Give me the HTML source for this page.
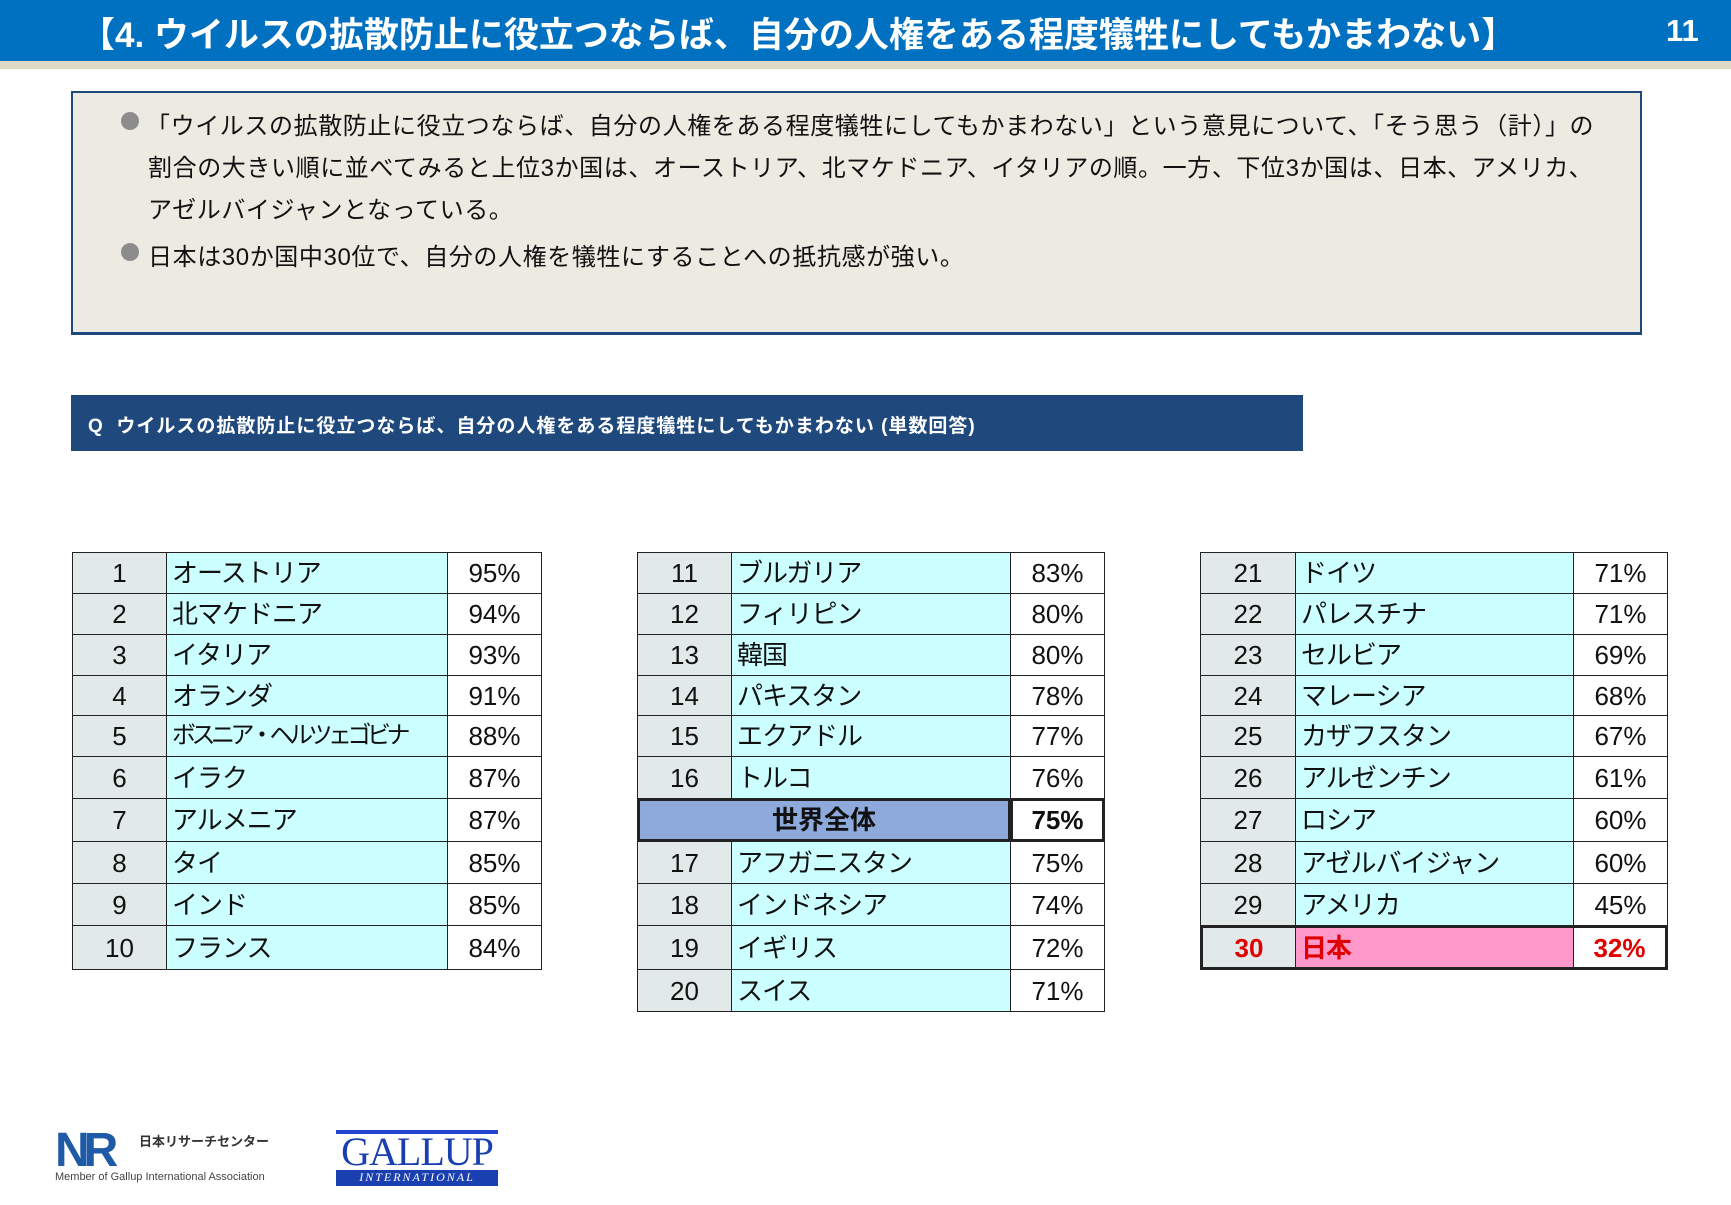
<!DOCTYPE html>
<html><head><meta charset="utf-8"><style>
*{margin:0;padding:0;box-sizing:border-box}
body{width:1731px;height:1205px;background:#fff;position:relative;overflow:hidden;font-family:"Liberation Sans","Noto Sans CJK JP",sans-serif}
.hdr{position:absolute;left:0;top:0;width:1731px;height:61px;background:#0070C0}
.stripe{position:absolute;left:0;top:61px;width:1731px;height:8px;background:#DDD9C4}
.title{position:absolute;left:80px;top:7px;color:#fff;font-size:35px;font-weight:bold;white-space:nowrap;letter-spacing:0px}
.pg{position:absolute;left:1666px;top:13px;color:#fff;font-size:31px;font-weight:bold}
.box{position:absolute;left:71px;top:91px;width:1571px;height:244px;background:#EDEAE1;border:2px solid #1F497D;border-bottom-width:3px}
.ln{position:absolute;font-size:24px;color:#111;white-space:nowrap;letter-spacing:0.6px}
.dot{position:absolute;width:18px;height:18px;border-radius:50%;background:#8c8c8c}
.q{position:absolute;left:71px;top:395px;width:1232px;height:56px;background:#1F497D;color:#fff;font-size:19px;font-weight:bold;padding:16px 0 0 17px;white-space:nowrap;letter-spacing:1px}
.c{position:absolute;border:1.5px solid #222;font-size:26px;color:#111;line-height:1;display:flex;align-items:center;white-space:nowrap;overflow:hidden}
.r{background:#E2E9E9;justify-content:center}
.n{background:#CCFFFF;padding-left:5px;letter-spacing:-1px}
.p{background:#fff;justify-content:center}
</style></head><body>
<div class="hdr"></div><div class="stripe"></div>
<div class="title">【4. ウイルスの拡散防止に役立つならば、自分の人権をある程度犠牲にしてもかまわない】</div>
<div class="pg">11</div>
<div class="box"></div>
<div class="dot" style="left:121px;top:112px"></div>
<div class="ln" style="left:146px;top:106px">「ウイルスの拡散防止に役立つならば、自分の人権をある程度犠牲にしてもかまわない」という意見について、「そう思う（計）」の</div>
<div class="ln" style="left:148px;top:148px">割合の大きい順に並べてみると上位3か国は、オーストリア、北マケドニア、イタリアの順。一方、下位3か国は、日本、アメリカ、</div>
<div class="ln" style="left:148px;top:190px">アゼルバイジャンとなっている。</div>
<div class="dot" style="left:121px;top:243px"></div>
<div class="ln" style="left:148px;top:237px">日本は30か国中30位で、自分の人権を犠牲にすることへの抵抗感が強い。</div>
<div class="q">Q&nbsp; ウイルスの拡散防止に役立つならば、自分の人権をある程度犠牲にしてもかまわない (単数回答)</div>
<div id="t"></div>
<svg style="position:absolute;left:55px;top:1122px" width="240" height="65">
<text x="0" y="44" font-family="Liberation Sans" font-weight="bold" font-size="48" fill="#1F5AA6" letter-spacing="-6">NR</text>
<text x="84" y="24" font-family="Liberation Sans,Noto Sans CJK JP,sans-serif" font-weight="bold" font-size="13" fill="#333">日本リサーチセンター</text>
<text x="0" y="58" font-family="Liberation Sans" font-size="11" fill="#444">Member of Gallup International Association</text>
</svg>
<div style="position:absolute;left:336px;top:1128px;width:162px;height:59px;background:#fff">
<div style="height:4px;background:#2244cc;margin-top:2px"></div>
<div style="font-family:'Liberation Serif',serif;font-size:40px;color:#1a3fb0;line-height:36px;text-align:center;letter-spacing:-1px">GALLUP</div>
<div style="background:#1a3fb0;color:#fff;font-family:'Liberation Serif',serif;font-style:italic;font-size:12px;text-align:center;letter-spacing:2px;height:16px">INTERNATIONAL</div>
</div>
<script>
const Y=[552,593,634,675,715,756,798,841,883,925,969,1011];
const L=[["1","オーストリア","95%"],["2","北マケドニア","94%"],["3","イタリア","93%"],["4","オランダ","91%"],["5","ボスニア・ヘルツェゴビナ","88%"],["6","イラク","87%"],["7","アルメニア","87%"],["8","タイ","85%"],["9","インド","85%"],["10","フランス","84%"]];
const M=[["11","ブルガリア","83%"],["12","フィリピン","80%"],["13","韓国","80%"],["14","パキスタン","78%"],["15","エクアドル","77%"],["16","トルコ","76%"],null,["17","アフガニスタン","75%"],["18","インドネシア","74%"],["19","イギリス","72%"],["20","スイス","71%"]];
const R=[["21","ドイツ","71%"],["22","パレスチナ","71%"],["23","セルビア","69%"],["24","マレーシア","68%"],["25","カザフスタン","67%"],["26","アルゼンチン","61%"],["27","ロシア","60%"],["28","アゼルバイジャン","60%"],["29","アメリカ","45%"],["30","日本","32%"]];
let h="";
function cell(x,y,w,hh,cls,txt,st){h+=`<div class="c ${cls}" style="left:${x}px;top:${y}px;width:${w}px;height:${hh}px;${st||""}">${txt}</div>`;}
function tab(d,x0,x1,x2,x3){d.forEach((r,i)=>{const y=Y[i],hh=Y[i+1]-Y[i]+1;
 if(!r){cell(x0,y,x2-x0+1,hh,"r","世界全体","background:#8EA9DB;font-weight:bold;border-width:3px;");cell(x2,y,x3-x2,hh,"p","75%","font-weight:bold;border-width:3px;");return;}
 const jp=r[0]=="30";const s=jp?"color:#E00000;font-weight:bold;":"";
 const ls=r[1].length>10?"letter-spacing:-4.5px;font-size:24px;":"";
 cell(x0,y,x1-x0+1,hh,"r",r[0],s+(jp?"border-width:3px 1.5px 3px 3px;":""));
 cell(x1,y,x2-x1+1,hh,"n",r[1],s+ls+(jp?"background:#FF99CC;border-width:3px 1.5px;":""));
 cell(x2,y,x3-x2,hh,"p",r[2],s+(jp?"border-width:3px 3px 3px 1.5px;":""));});}
tab(L,72,166,447,542);tab(M,637,731,1010,1105);tab(R,1200,1295,1573,1668);
document.getElementById("t").innerHTML=h;
</script>
</body></html>
